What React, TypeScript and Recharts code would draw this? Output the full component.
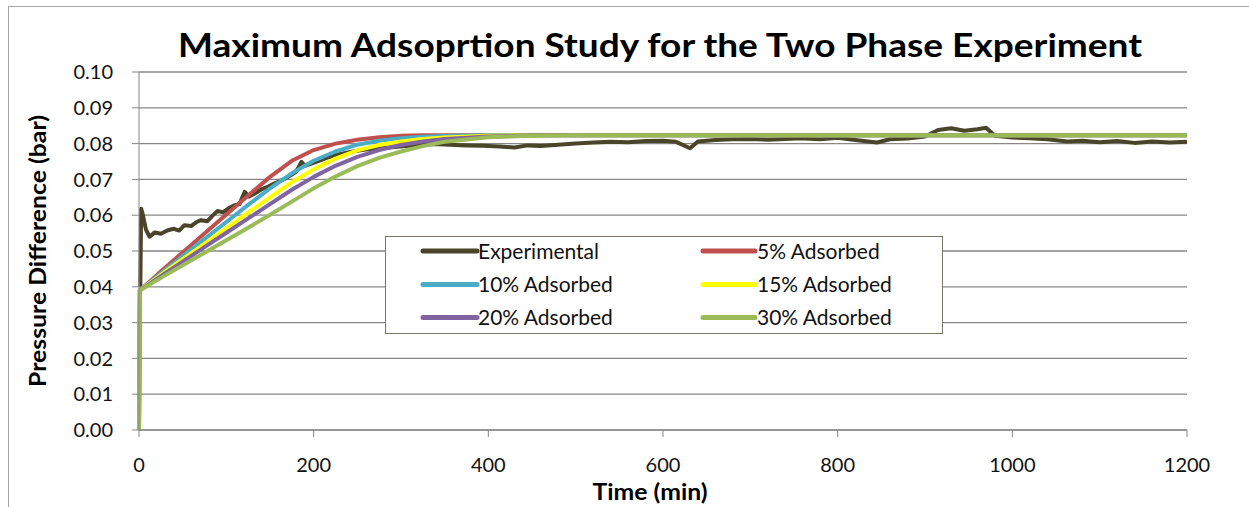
import React from 'react';
import { LineChart, Line, XAxis, YAxis, CartesianGrid, Legend, Customized } from 'recharts';

// time (min) / pressure difference (bar)
const expTime = [
  1.5, 2.5, 4, 8, 12, 18, 25, 33, 40, 46, 52, 60, 66, 71, 78, 84, 90, 96, 103, 110,
  115, 121, 126, 132, 140, 148, 156, 162, 167, 174, 180, 186, 190, 198, 206, 215, 225, 235, 245, 255,
  265, 280, 299, 320, 337, 356, 375, 394, 413, 430, 445, 460, 480, 500, 520, 540, 560, 580, 600, 615,
  631, 640, 660, 680, 700, 720, 740, 757, 780, 800, 820, 845, 860, 880, 900, 915, 930, 945, 960, 970,
  980, 1000, 1020, 1040, 1063, 1080, 1100, 1120, 1140, 1160, 1180, 1200,
];
const expValues = [
  0.040, 0.0618, 0.0605, 0.0560, 0.0540, 0.0552, 0.0548, 0.0558, 0.0562, 0.0557, 0.0572, 0.0570, 0.0581, 0.0586, 0.0583, 0.0598, 0.0612, 0.0608, 0.0620, 0.0628,
  0.0631, 0.0665, 0.0652, 0.0660, 0.0672, 0.0680, 0.0690, 0.0696, 0.0702, 0.0712, 0.0722, 0.0749, 0.0738, 0.0745, 0.0752, 0.0760, 0.0768, 0.0773, 0.0778, 0.0782,
  0.0785, 0.0788, 0.0792, 0.0796, 0.0799, 0.0797, 0.0795, 0.0794, 0.0792, 0.0789, 0.0795, 0.0793, 0.0797, 0.0800, 0.0803, 0.0805, 0.0804, 0.0807, 0.0808, 0.0805,
  0.0787, 0.0806, 0.0810, 0.0812, 0.0813, 0.0811, 0.0813, 0.0815, 0.0812, 0.0816, 0.0810, 0.0803, 0.0812, 0.0814, 0.0820, 0.0838, 0.0843, 0.0836, 0.0840, 0.0844,
  0.0822, 0.0817, 0.0815, 0.0812, 0.0806, 0.0808, 0.0804, 0.0807, 0.0802, 0.0806, 0.0803, 0.0805,
];

const modelTime = [0, 1, 25, 50, 75, 100, 125, 150, 175, 200, 225, 250, 275, 300, 325, 350, 400, 450, 500, 1200];
const ads5 = [0, 0.039, 0.0443, 0.0496, 0.0549, 0.0602, 0.0655, 0.0707, 0.0752, 0.0782, 0.0800, 0.0811, 0.0818, 0.0822, 0.0823, 0.0823, 0.0823, 0.0823, 0.0823, 0.0823];
const ads10 = [0, 0.039, 0.0438, 0.0486, 0.0533, 0.0581, 0.0629, 0.0675, 0.0717, 0.0752, 0.0778, 0.0797, 0.0808, 0.0815, 0.0819, 0.0821, 0.0823, 0.0823, 0.0823, 0.0823];
const ads15 = [0, 0.039, 0.0433, 0.0477, 0.0520, 0.0564, 0.0607, 0.0650, 0.0692, 0.0728, 0.0758, 0.0781, 0.0796, 0.0806, 0.0813, 0.0817, 0.0822, 0.0823, 0.0823, 0.0823];
const ads20 = [0, 0.039, 0.0430, 0.0470, 0.0511, 0.0551, 0.0591, 0.0631, 0.0671, 0.0707, 0.0738, 0.0763, 0.0782, 0.0796, 0.0806, 0.0813, 0.0820, 0.0823, 0.0823, 0.0823];
const ads30 = [0, 0.039, 0.0425, 0.0460, 0.0495, 0.0530, 0.0565, 0.0601, 0.0638, 0.0675, 0.0708, 0.0737, 0.0760, 0.0778, 0.0793, 0.0805, 0.0818, 0.0822, 0.0823, 0.0823];

const yTicks = [0, 0.01, 0.02, 0.03, 0.04, 0.05, 0.06, 0.07, 0.08, 0.09, 0.1];
const xTicks = [0, 200, 400, 600, 800, 1000, 1200];

const toPoints = (ts: number[], vs: number[]) => ts.map((t, i) => ({ t, v: vs[i] }));

const series = [
  { name: 'Experimental', color: '#4A452A', data: toPoints(expTime, expValues) },
  { name: '5% Adsorbed', color: '#C0504D', data: toPoints(modelTime, ads5) },
  { name: '10% Adsorbed', color: '#4BACC6', data: toPoints(modelTime, ads10) },
  { name: '15% Adsorbed', color: '#FFFF00', data: toPoints(modelTime, ads15) },
  { name: '20% Adsorbed', color: '#8064A2', data: toPoints(modelTime, ads20) },
  { name: '30% Adsorbed', color: '#9BBB59', data: toPoints(modelTime, ads30) },
];

const FONT = 'Lato, "DejaVu Sans", sans-serif';
const W = 1249;
const H = 507;

const LegendBox = () => {
  const rows = [15, 48.5, 81.5];
  const cols = [{ l: 38, r: 92, tx: 93 }, { l: 318, r: 370, tx: 372 }];
  return (
    <svg width={558} height={98} style={{ display: 'block' }}>
      <rect x={0.5} y={0.5} width={557} height={97} fill="#fff" stroke="#7a766a" strokeWidth={1} />
      {series.map((s, i) => {
        const c = cols[i % 2];
        const y = rows[Math.floor(i / 2)];
        return (
          <g key={s.name}>
            <line x1={c.l} x2={c.r} y1={y} y2={y} stroke={s.color} strokeWidth={5} strokeLinecap="round" />
            <text x={c.tx} y={y} dy="0.36em" fontSize={21} fontFamily={FONT} fill="#111">{s.name}</text>
          </g>
        );
      })}
    </svg>
  );
};

const Titles = () => (
  <g fontFamily={FONT} fontWeight="bold" fill="#000">
    <text x={660} y={57} fontSize={33} textAnchor="middle" textLength={964} lengthAdjust="spacingAndGlyphs">
      Maximum Adsoprtion Study for the Two Phase Experiment
    </text>
    <text x={650} y={500} fontSize={22} textAnchor="middle" textLength={115} lengthAdjust="spacingAndGlyphs">
      Time (min)
    </text>
    <text x={46} y={251} fontSize={22} textAnchor="middle" transform="rotate(-90 46 251)" textLength={272} lengthAdjust="spacingAndGlyphs">
      Pressure Difference (bar)
    </text>
  </g>
);

export default function App() {
  return (
    <div style={{ position: 'absolute', left: 0, top: 0, width: W, height: H, background: '#fff', overflow: 'hidden' }}>
      <div style={{ position: 'absolute', left: 8, top: 6, width: 1260, height: 520, border: '1px solid #a6a6a6', boxSizing: 'border-box' }} />
      <LineChart width={W} height={H} margin={{ top: 72, right: 62, bottom: 0, left: 0 }}>
        <CartesianGrid vertical={false} stroke="#878787" strokeWidth={1.3} />
        <XAxis
          type="number"
          dataKey="t"
          domain={[0, 1200]}
          ticks={xTicks}
          height={77}
          stroke="#878787"
          tickSize={7}
          tickMargin={21}
          tick={{ fill: '#111', fontSize: 20, fontFamily: FONT }}
          allowDuplicatedCategory={false}
        />
        <YAxis
          type="number"
          domain={[0, 0.1]}
          ticks={yTicks}
          width={139}
          stroke="#878787"
          tickSize={7}
          tickMargin={19}
          tickFormatter={(v: number) => v.toFixed(2)}
          tick={{ fill: '#111', fontSize: 20, fontFamily: FONT }}
        />
        {series.map((s) => (
          <Line
            key={s.name}
            data={s.data}
            dataKey="v"
            name={s.name}
            type="linear"
            stroke={s.color}
            strokeWidth={s.name === 'Experimental' ? 4 : 4}
            strokeLinejoin="round"
            dot={false}
            isAnimationActive={false}
          />
        ))}
        <Legend
          layout="vertical"
          align="center"
          verticalAlign="middle"
          content={<LegendBox />}
          wrapperStyle={{ position: 'absolute', left: 385, top: 236, width: 558, height: 98, bottom: 'auto', right: 'auto' }}
        />
        <Customized component={Titles} />
      </LineChart>
    </div>
  );
}
